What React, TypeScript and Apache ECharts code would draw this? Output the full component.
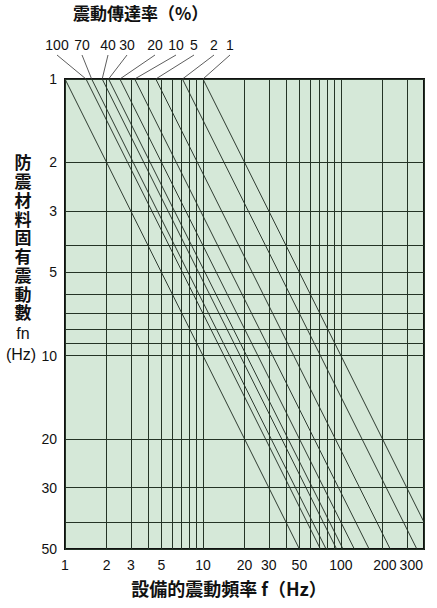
import React, { useEffect, useRef } from "react";
import * as echarts from "echarts";

// Transmissibility curves (%), each drawn from fn = 1 Hz to fn = 50 Hz
const percentLabels = ["100", "70", "40", "30", "20", "10", "5", "2", "1"];
// equipment frequency f (Hz) where each curve meets fn = 1 Hz (first one: resonance f = fn)
const resonanceStartF = 1;
const curveStartF = [1.42, 1.56, 1.86, 2.07, 2.5, 3.2, 4.55, 7.1, 10];
const fnRange = [1, 50];
const fRange = [1, 400];
const xGridValues = [1, 2, 3, 4, 5, 6, 7, 8, 9, 10, 20, 30, 40, 50, 60, 70, 80, 90, 100, 200, 300, 400];
const yGridValues = [1, 2, 3, 4, 5, 6, 7, 8, 9, 10, 20, 30, 40, 50];
const xTickLabels = [1, 2, 3, 5, 10, 20, 30, 50, 100, 200, 300];
const yTickLabels = [1, 2, 3, 5, 10, 20, 30, 50];
const yTitleChars = ["防", "震", "材", "料", "固", "有", "震", "動", "數"];

// label placement (annotation layout)
const labelCentersX = [57, 82, 108, 127, 155, 176, 194, 214, 230];

export default function App() {
  const ref = useRef<HTMLDivElement>(null);
  useEffect(() => {
    const el = ref.current;
    if (!el) return;
    const chart = echarts.init(el, null, { renderer: "svg" });
    const cjk = '"Noto Sans CJK JP", "Noto Sans", sans-serif';
    const num = '"Liberation Sans", Arial, sans-serif';
    const ink = "#1c281e";
    const allStarts = [resonanceStartF, ...curveStartF];
    const series: any[] = allStarts.map((f0, i) => ({
      type: "line",
      data: [
        [f0 * fnRange[0], fnRange[0]],
        [f0 * fnRange[1], fnRange[1]],
      ],
      symbol: "none",
      lineStyle: { color: ink, width: 0.9 },
      clip: true,
      silent: true,
      z: 3,
      ...(i === 0
        ? {
            markLine: {
              silent: true,
              symbol: ["none", "none"],
              label: { show: false },
              lineStyle: { color: "#243326", width: 1, type: "solid" },
              data: [
                ...xGridValues.map((v) => ({ xAxis: v })),
                ...yGridValues.map((v) => ({ yAxis: v })),
              ],
            },
          }
        : {}),
    }));

    chart.setOption({
      animation: false,
      grid: {
        left: 65,
        right: 13,
        top: 79,
        bottom: 59,
        show: true,
        backgroundColor: "#d5e8d8",
        borderColor: "#111",
        borderWidth: 2,
        z: 0,
      },
      xAxis: {
        type: "log",
        logBase: 10,
        min: fRange[0],
        max: fRange[1],
        axisLine: { show: false },
        axisTick: { show: false },
        splitLine: { show: false },
        minorSplitLine: { show: false },
        axisLabel: {
          customValues: xTickLabels,
          fontSize: 14,
          color: "#111",
          fontFamily: num,
          margin: 9,
          formatter: (v: number) =>
            v === 300 ? `{b|${v}}` : v === 200 ? `{a|${v}}` : `${v}`,
          rich: {
            a: { fontSize: 14, fontFamily: num, color: "#111", padding: [0, 0, 0, 5] },
            b: { fontSize: 14, fontFamily: num, color: "#111", padding: [0, 0, 0, 9] },
          },
        },
      },
      yAxis: {
        type: "log",
        logBase: 10,
        inverse: true,
        min: fnRange[0],
        max: fnRange[1],
        axisLine: { show: false },
        axisTick: { show: false },
        splitLine: { show: false },
        axisLabel: {
          customValues: yTickLabels,
          fontSize: 14,
          color: "#111",
          fontFamily: num,
          margin: 8,
        },
      },
      series,
    });

    const tops = curveStartF.map((f0) =>
      chart.convertToPixel({ gridIndex: 0 }, [f0, fnRange[0]]) as number[]
    );

    const graphics: any[] = [];
    graphics.push({
      type: "text",
      left: 73,
      top: 4,
      style: {
        text: "震動傳達率（%）",
        fontSize: 17,
        fontWeight: "bold",
        fontFamily: cjk,
        fill: "#111",
      },
    });
    percentLabels.forEach((t, i) => {
      graphics.push({
        type: "text",
        x: labelCentersX[i],
        y: 45,
        style: {
          text: t,
          fontSize: 14,
          fontFamily: num,
          fill: "#111",
          align: "center",
          verticalAlign: "middle",
        },
      });
      const p = tops[i];
      graphics.push({
        type: "line",
        shape: { x1: labelCentersX[i], y1: 55, x2: p[0], y2: p[1] },
        style: { stroke: "#333", lineWidth: 0.8 },
        silent: true,
      });
    });
    graphics.push({
      type: "text",
      x: 23,
      y: 152.6,
      style: {
        text: yTitleChars.join("\n"),
        fontSize: 17,
        lineHeight: 18.75,
        fontWeight: "bold",
        fontFamily: cjk,
        fill: "#111",
        align: "center",
        verticalAlign: "top",
      },
    });
    graphics.push({
      type: "text",
      x: 23,
      y: 333,
      style: { text: "fn", fontSize: 16, fontFamily: num, fill: "#111", align: "center", verticalAlign: "middle" },
    });
    graphics.push({
      type: "text",
      x: 21,
      y: 354,
      style: { text: "(Hz)", fontSize: 16, fontFamily: num, fill: "#111", align: "center", verticalAlign: "middle" },
    });
    graphics.push({
      type: "text",
      x: 229,
      y: 588,
      style: {
        text: "設備的震動頻率 f（Hz）",
        fontSize: 18,
        fontWeight: "bold",
        fontFamily: cjk,
        fill: "#111",
        align: "center",
        verticalAlign: "middle",
      },
    });
    chart.setOption({ graphic: graphics });

    return () => chart.dispose();
  }, []);
  return (
    <div
      ref={ref}
      style={{ position: "absolute", left: 0, top: 0, width: 437, height: 608 }}
    />
  );
}
